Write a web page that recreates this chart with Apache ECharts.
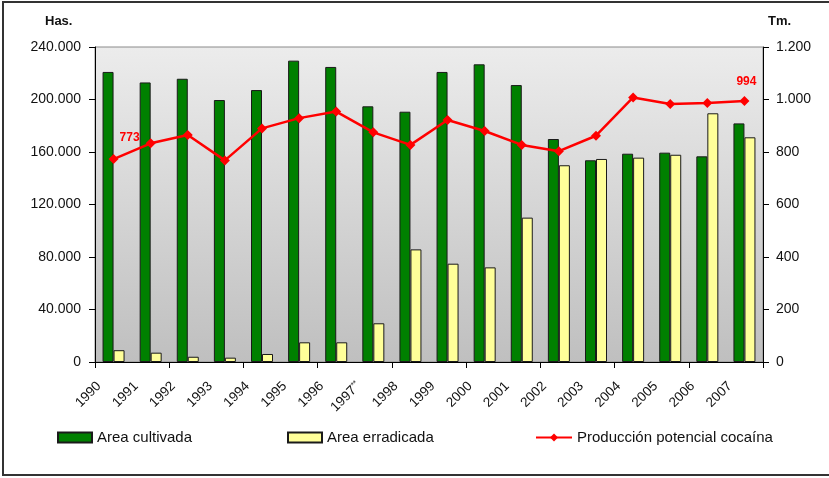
<!DOCTYPE html>
<html>
<head>
<meta charset="utf-8">
<script src="https://cdn.jsdelivr.net/npm/echarts@6/dist/echarts.min.js"></script>
<style>
html,body{margin:0;padding:0;background:#fff;}
#c{width:829px;height:478px;}
</style>
</head>
<body>
<div id="c"></div>
<script>
const years = ['1990','1991','1992','1993','1994','1995','1996','1997**','1998','1999','2000','2001','2002','2003','2004','2005','2006','2007'];
const areaCultivada = [221000,213000,215800,199600,207200,229600,224800,194800,190700,221000,226800,211000,169900,153700,158700,159500,156700,181800];
const areaErradicada = [9000,7100,4000,3300,6100,15000,15000,29500,85800,74900,72100,110000,149900,154700,155700,157900,189500,171200];
const produccion = [773,833,865,768,890,929,954,875,827,922,880,827,803,862,1008,983,987,994];
const leftTicks = [0,40000,80000,120000,160000,200000,240000];
const rightTicks = [0,200,400,600,800,1000,1200];

const FONT = "'Liberation Sans', Arial, sans-serif";
function fmt(v){ return String(v).replace(/\B(?=(\d{3})+(?!\d))/g,'.'); }

const chart = echarts.init(document.getElementById('c'), null, {renderer:'canvas'});
const option = {
  animation:false,
  backgroundColor:'#fff',
  textStyle:{fontFamily:FONT},
  grid:[
    {left:95,right:66,top:47,bottom:116,show:true,borderColor:'#8a8a8a',borderWidth:1,
     backgroundColor:new echarts.graphic.LinearGradient(0,0,0,1,[{offset:0,color:'#ececec'},{offset:1,color:'#bfbfbf'}])},
    {left:99,right:62,top:47,bottom:116,show:false}
  ],
  xAxis:[
    {type:'category',gridIndex:0,data:years,boundaryGap:true,
     axisLine:{show:true,lineStyle:{color:'#000',width:1}},
     axisTick:{show:true,inside:false,length:6,lineStyle:{color:'#000'}},
     axisLabel:{show:false}},
    {type:'value',gridIndex:1,min:0,max:18,interval:1,
     axisLine:{show:false},axisTick:{show:false},splitLine:{show:false},
     axisLabel:{show:true,rotate:45,margin:22,fontSize:13.5,color:'#111',fontFamily:FONT,
       formatter:function(v){
         const y = years[Math.round(v)];
         if(!y) return '';
         if(y.indexOf('**')>=0) return y.replace('**','') + '{s|**}';
         return y;
       },
       rich:{s:{fontSize:8,verticalAlign:'top',color:'#111',padding:[0,0,6,0]}},
       showMaxLabel:true,showMinLabel:true}}
  ],
  yAxis:[
    {type:'value',gridIndex:0,position:'left',min:0,max:240000,interval:40000,
     axisLine:{show:true,lineStyle:{color:'#000'}},
     axisTick:{show:true,length:6,lineStyle:{color:'#000'}},
     splitLine:{show:false},
     axisLabel:{margin:14,fontSize:14,color:'#111',fontFamily:FONT,formatter:fmt}},
    {type:'value',gridIndex:0,position:'right',min:0,max:1200,interval:200,
     axisLine:{show:true,lineStyle:{color:'#000'}},
     axisTick:{show:true,length:6,lineStyle:{color:'#000'}},
     splitLine:{show:false},
     axisLabel:{margin:13,fontSize:14,color:'#111',fontFamily:FONT,formatter:fmt}},
    {type:'value',gridIndex:1,show:false,min:0,max:1}
  ],
  legend:[
    {left:52,top:425,itemWidth:34,itemHeight:10,icon:'rect',data:['Area cultivada'],
     textStyle:{fontSize:15,color:'#111',fontFamily:FONT}},
    {left:282,top:425,itemWidth:34,itemHeight:10,icon:'rect',data:['Area erradicada'],
     textStyle:{fontSize:15,color:'#111',fontFamily:FONT}},
    {left:530,top:425,itemWidth:36,itemHeight:10,data:['Producción potencial cocaína'],
     textStyle:{fontSize:15,color:'#111',fontFamily:FONT}}
  ],
  graphic:[
    {type:'rect',shape:{x:3,y:2,width:880,height:473},style:{fill:'none',stroke:'#333',lineWidth:2},silent:true,z:100},
    {type:'text',left:45,top:15,style:{text:'Has.',font:'bold 13px '+FONT,fill:'#111'}},
    {type:'text',left:768,top:15,style:{text:'Tm.',font:'bold 13px '+FONT,fill:'#111'}}
  ],
  series:[
    {name:'Area cultivada',type:'bar',xAxisIndex:0,yAxisIndex:0,data:areaCultivada,barWidth:11,barGap:'0%',
     itemStyle:{color:'#008000',borderColor:'#1a1a1a',borderWidth:1}},
    {name:'Area erradicada',type:'bar',xAxisIndex:0,yAxisIndex:0,data:areaErradicada,barWidth:11,barGap:'0%',
     itemStyle:{color:'#ffff99',borderColor:'#1a1a1a',borderWidth:1}},
    {name:'Producción potencial cocaína',type:'line',xAxisIndex:0,yAxisIndex:1,
     data:produccion.map(function(v,i){
       const last = i===produccion.length-1;
       return {value:v,label:{show:(i===0||last),offset:last?[2,-3]:[16,-5]}};
     }),
     symbol:'diamond',symbolSize:10,
     lineStyle:{color:'#ff0000',width:2.5},
     itemStyle:{color:'#ff0000'},
     label:{position:'top',color:'#ff0000',fontWeight:'bold',fontSize:12,fontFamily:FONT,formatter:function(p){return fmt(p.value);}},
     z:5}
  ]
};
chart.setOption(option);
</script>
</body>
</html>
